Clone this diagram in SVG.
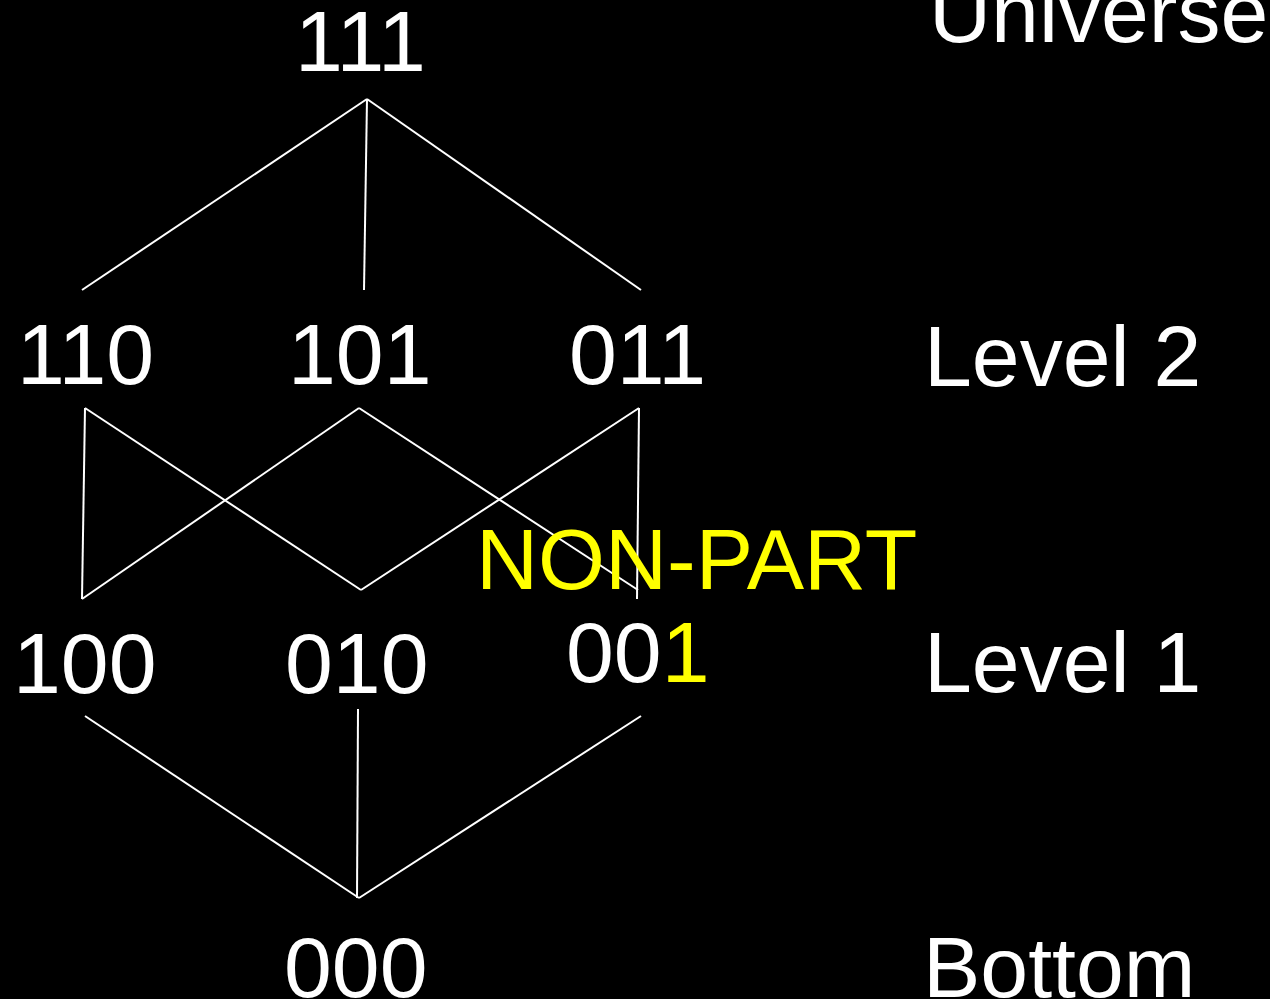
<svg xmlns="http://www.w3.org/2000/svg" width="1270" height="999" viewBox="0 0 1270 999">
<style>
.t{font-family:"Liberation Sans",Arial,sans-serif;font-size:86px;fill:#fff}
.y{fill:#ff0}
.c line{stroke:#fff;stroke-width:2}
</style>
<rect width="1270" height="999" fill="#000"/>
<g id="connectors" class="c">
<line x1="367" y1="99" x2="82" y2="290"/>
<line x1="367" y1="99" x2="364" y2="290"/>
<line x1="367" y1="99" x2="641" y2="290"/>
<line x1="85" y1="408" x2="82" y2="599"/>
<line x1="85" y1="408" x2="361" y2="590"/>
<line x1="359" y1="408" x2="82" y2="599"/>
<line x1="359" y1="408" x2="638" y2="590"/>
<line x1="639" y1="408" x2="361" y2="590"/>
<line x1="639" y1="408" x2="637" y2="599"/>
<line x1="85" y1="716" x2="359" y2="898"/>
<line x1="358" y1="709" x2="357" y2="898"/>
<line x1="641" y1="716" x2="359" y2="898"/>
</g>
<g id="n111"><text class="t" x="295" y="71">111</text></g>
<g id="n110"><text class="t" x="17" y="384">110</text></g>
<g id="n101"><text class="t" x="288" y="384">101</text></g>
<g id="n011"><text class="t" x="569" y="384">011</text></g>
<g id="n100"><text class="t" x="13" y="693">100</text></g>
<g id="n010"><text class="t" x="285" y="693">010</text></g>
<g id="n001"><text class="t" x="566" y="682">00<tspan class="y">1</tspan></text></g>
<g id="n000"><text class="t" x="284" y="997">000</text></g>
<g id="labels">
<text class="t" x="929" y="42">Universe</text>
<text class="t" x="924" y="386">Level 2</text>
<text class="t" x="924" y="692">Level 1</text>
<text class="t" x="923" y="997">Bottom</text>
<text class="t y" x="476" y="589">NON-PART</text>
</g>
</svg>
